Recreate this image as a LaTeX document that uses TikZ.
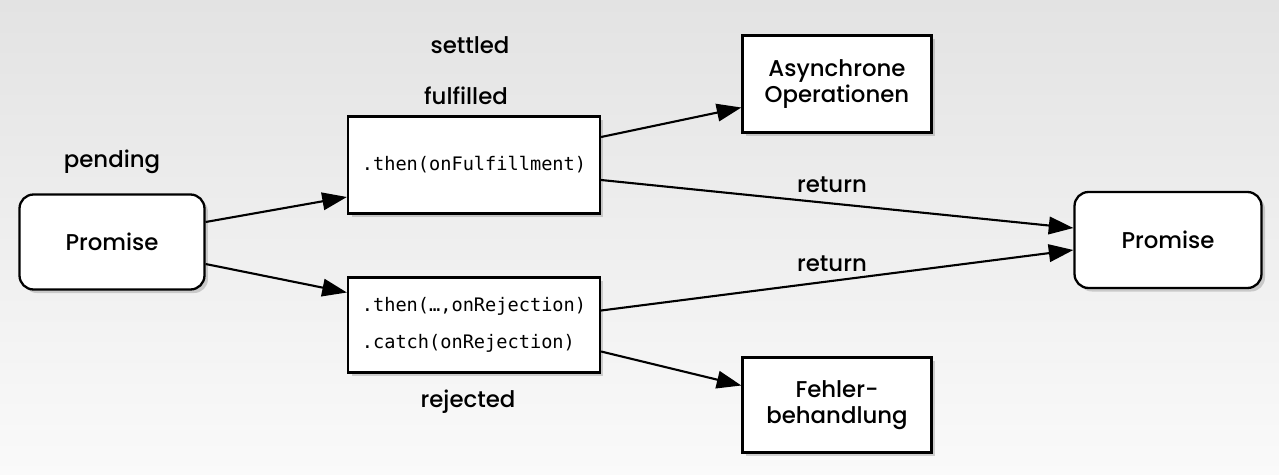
\documentclass[tikz,border=0pt]{standalone}
\usepackage{fontspec}
\setmainfont{Poppins}[UprightFont=* Medium]
\setmonofont{DejaVu Sans Mono}
\usetikzlibrary{arrows.meta,shadows}
\tikzset{
  box/.style={draw=black, line width=1.3pt, fill=white, minimum width=#1, align=center,
    drop shadow={opacity=0.35, shadow xshift=2pt, shadow yshift=-2pt}},
  rbox/.style={box=#1, rounded corners=0.28cm},
  lbl/.style={font=\fontsize{13}{15}\selectfont},
  code/.style={font=\ttfamily\fontsize{10.6}{21}\selectfont, align=left},
  arr/.style={line width=1.2pt, -{Triangle[length=14pt,width=10pt]}},
}
\begin{document}
\begin{tikzpicture}[x=0.02cm, y=-0.02cm]
\shade[top color=black!11, bottom color=black!2] (0,0) rectangle (1279,474);
\useasboundingbox (0,0) rectangle (1279,474);
\node[rbox=3.7cm, minimum height=1.9cm, lbl] (lp) at (112,242) {Promise};
\node[box=5.04cm, minimum height=1.94cm, code] (tb) at (474,165) {.then(onFulfillment)};
\node[box=5.04cm, minimum height=1.9cm, code] (cb) at (474,325) {.then(…,onRejection)\\.catch(onRejection)};
\node[box=3.78cm, minimum height=1.94cm, lbl] (ao) at (837,84) {Asynchrone\\Operationen};
\node[box=3.78cm, minimum height=1.9cm, lbl] (fb) at (837,405) {Fehler-\\behandlung};
\node[rbox=3.74cm, minimum height=1.92cm, lbl] (rp) at (1168,240) {Promise};
\node[lbl] (pend) at (112,162) {pending};
\node[lbl] (sett) at (470,45) {settled};
\node[lbl] (fulf) at (466,96) {fulfilled};
\node[lbl] (rej) at (468,402) {rejected};
\node[lbl] (ret1) at (832,185) {return};
\node[lbl] (ret2) at (832,264) {return};
\draw[arr] ([yshift=0.4cm]lp.east) -- ([yshift=-0.64cm]tb.west);
\draw[arr] ([yshift=-0.44cm]lp.east) -- ([yshift=0.65cm]cb.west);
\draw[arr] ([yshift=0.56cm]tb.east) -- ([yshift=-0.47cm]ao.west);
\draw[arr] ([yshift=-0.3cm]tb.east) -- ([yshift=0.24cm]rp.west);
\draw[arr] ([yshift=0.29cm]cb.east) -- ([yshift=-0.2cm]rp.west);
\draw[arr] ([yshift=-0.53cm]cb.east) -- ([yshift=0.39cm]fb.west);
\end{tikzpicture}
\end{document}
